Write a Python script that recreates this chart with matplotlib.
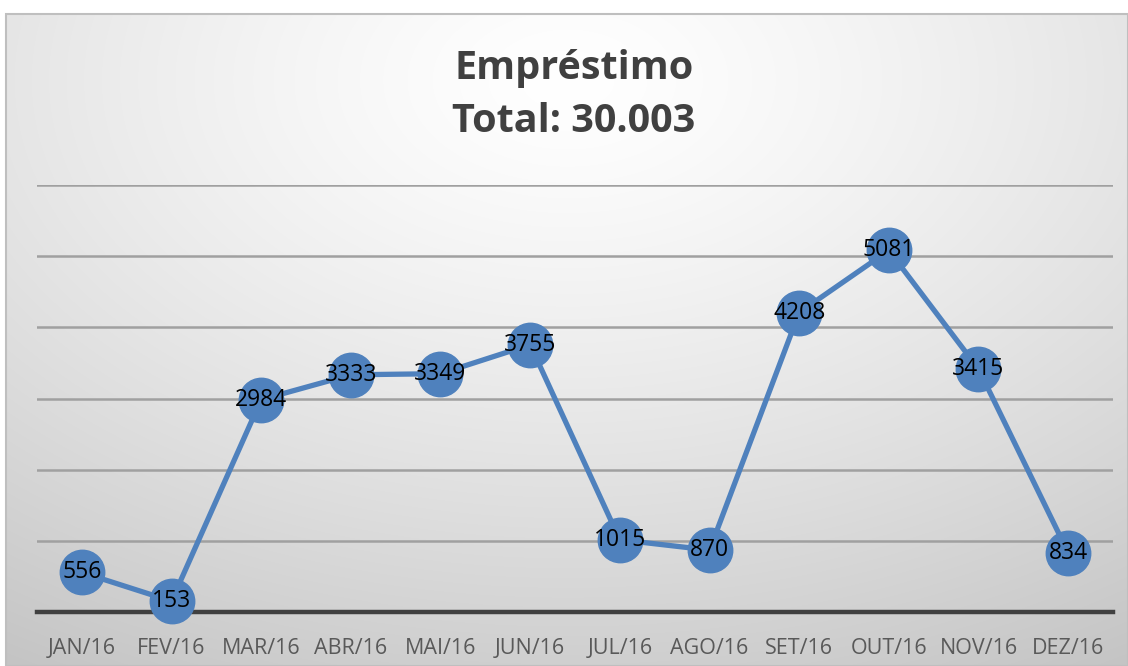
import numpy as np
import matplotlib
matplotlib.use("Agg")
import matplotlib.pyplot as plt
from matplotlib.patches import Rectangle

months = ["JAN/16", "FEV/16", "MAR/16", "ABR/16", "MAI/16", "JUN/16",
          "JUL/16", "AGO/16", "SET/16", "OUT/16", "NOV/16", "DEZ/16"]
values = [556, 153, 2984, 3333, 3349, 3755, 1015, 870, 4208, 5081, 3415, 834]
title = "Empréstimo\nTotal: 30.003"

W, H = 1128, 666
fig = plt.figure(figsize=(W / 100, H / 100), dpi=100)
fig.patch.set_facecolor("white")

# background panel with radial gradient
bx0, by0, bx1, by1 = 6, 14, 1128, 666  # pixel coords (top-left origin)
bg = fig.add_axes([bx0 / W, 1 - by1 / H, (bx1 - bx0) / W, (by1 - by0) / H])
yy, xx = np.mgrid[0:300, 0:600]
cx, cy = 300, 30
r = np.sqrt(((xx - cx) / 600.0) ** 2 + ((yy - cy) / 330.0) ** 2)
r = np.clip(r / 0.95, 0, 1)
val = 1.0 - 0.23 * r ** 1.3
img = np.dstack([val, val, val])
bg.imshow(img, aspect="auto", extent=[0, 1, 0, 1], interpolation="bilinear")
bg.set_xlim(0, 1)
bg.set_ylim(0, 1)
bg.axis("off")
bg.add_patch(Rectangle((0, 0), 1, 1, transform=bg.transAxes, fill=False,
                       edgecolor="#BFBFBF", linewidth=1.5, clip_on=False))

# plot area
px0, px1 = 37, 1113
py0, py1 = 185, 612
ax = fig.add_axes([px0 / W, 1 - py1 / H, (px1 - px0) / W, (py1 - py0) / H])
ax.set_facecolor("none")
x = np.arange(len(months))
ax.set_xlim(-0.5, len(months) - 0.5)
ax.set_ylim(0, 6000)
ax.set_yticks(np.arange(0, 6001, 1000))
ax.yaxis.grid(True, color="#A0A0A0", linewidth=1.8)
ax.set_axisbelow(True)
ax.tick_params(axis="y", left=False, labelleft=False)
ax.tick_params(axis="x", bottom=False, length=0, pad=19, labelsize=15.5,
               labelcolor="#595959")
for s in ["top", "right", "left"]:
    ax.spines[s].set_visible(False)
ax.spines["bottom"].set_color("#404040")
ax.spines["bottom"].set_linewidth(3.2)
ax.spines["bottom"].set_zorder(1)
ax.set_xticks(x)
ax.set_xticklabels(months, fontfamily="Open Sans")

ax.plot(x, values, color="#4F81BD", linewidth=3.8, marker="o",
        markersize=32, markerfacecolor="#4F81BD", markeredgecolor="#4F81BD",
        clip_on=False, zorder=3)
for xi, v in zip(x, values):
    ax.text(xi, v, str(v), ha="center", va="center", fontsize=16.5,
            color="black", fontfamily="Open Sans", zorder=4)

fig.text(574 / W, 1 - 95 / H, title, ha="center", va="center",
         fontsize=28.5, fontweight="bold", color="#404040",
         fontfamily="Open Sans", linespacing=1.5)

fig.savefig("out.png", dpi=100)
